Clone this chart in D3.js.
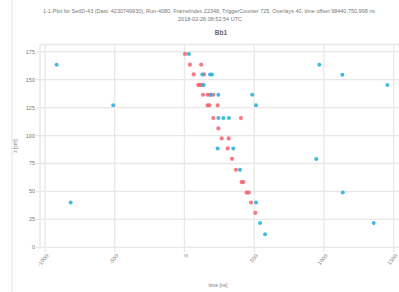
<!DOCTYPE html>
<html><head><meta charset="utf-8">
<script src="https://cdn.jsdelivr.net/npm/d3@7"></script>
<style>html,body{margin:0;padding:0;background:#fff;}svg{display:block;font-family:"Liberation Sans",Arial,sans-serif;}</style>
</head><body>
<svg id="c" width="399" height="292"></svg>
<script>
const titleLines = ["1-1-Plot for SetID-43 (Dast: 4230749930), Run-4080, FrameIndex 22348, TriggerCounter 725, Overlays 40, time offset 98440,750,998 ns", "2018-02-26 08:52:54 UTC"];
const subTitle = "Bb1";
const xLabel = "time [ns]";
const yLabel = "z [cm]";
const xTicks = [-1000, -500, 0, 500, 1000, 1500];
const yTicks = [0, 25, 50, 75, 100, 125, 150, 175];
// red series: [time ns, z cm]
const redT = [4, 39, 120, 66, 140, 99, 112, 124, 133, 166, 183, 207, 166, 178, 238, 207, 405, 243, 267, 317, 310, 341, 369, 410, 422, 446, 461, 477, 508];
const redZ = [173, 163.4, 163.4, 154.7, 154.7, 145.3, 145.3, 145.3, 136.5, 136.5, 136.5, 136.5, 127, 127, 127, 115.6, 115.6, 106.4, 97.4, 97.4, 88.5, 79.2, 69.4, 58.4, 58.4, 49, 49, 40.1, 30.9];
// blue series
const blueT = [-917, -511, 32, 128, 183, 197, 138, 190, 243, 486, 513, 243, 279, 319, 238, 350, 398, 513, 542, 578, -816, 967, 1132, 1455, 945, 1135, 1357];
const blueZ = [163.4, 127, 173, 154.7, 154.7, 154.7, 145.3, 136.5, 136.5, 136.5, 127, 115.6, 115.6, 115.6, 88.5, 88.5, 69.4, 40.1, 21.7, 11.8, 40, 163.4, 154.4, 145.2, 79, 49, 21.7];

const svg = d3.select("#c");
const x = d3.scaleLinear().domain([-1036, 1524]).range([40, 397]);
const y = d3.scaleLinear().domain([-1.5, 181]).range([249, 45]);
const grid = "#e8e8e8", txt = "#777";

// faint page edge line
svg.append("line").attr("x1",12).attr("x2",12).attr("y1",0).attr("y2",292).attr("stroke","#e6e0ee").attr("stroke-width",1);

// title
svg.append("text").attr("x",209).attr("y",13).attr("text-anchor","middle").attr("font-size",5).attr("fill",txt)
  .attr("textLength",332).attr("lengthAdjust","spacingAndGlyphs").text(titleLines[0]);
svg.append("text").attr("x",210).attr("y",21).attr("text-anchor","middle").attr("font-size",5).attr("fill",txt)
  .attr("textLength",64).attr("lengthAdjust","spacingAndGlyphs").text(titleLines[1]);
svg.append("text").attr("x",221).attr("y",35).attr("text-anchor","middle").attr("font-size",6.5).attr("font-weight","bold").attr("fill","#666").text(subTitle);

// frame top / left
svg.append("line").attr("x1",40).attr("x2",399).attr("y1",44.5).attr("y2",44.5).attr("stroke",grid).attr("stroke-width",1.5);
svg.append("line").attr("x1",40).attr("x2",40).attr("y1",44.5).attr("y2",249).attr("stroke",grid).attr("stroke-width",1.5);

// grid
svg.append("g").selectAll("line").data(yTicks).join("line")
  .attr("x1",36).attr("x2",399).attr("y1",d=>y(d)).attr("y2",d=>y(d)).attr("stroke",grid).attr("stroke-width",1.3);
svg.append("g").selectAll("line").data(xTicks).join("line")
  .attr("x1",d=>x(d)).attr("x2",d=>x(d)).attr("y1",44.5).attr("y2",252).attr("stroke",grid).attr("stroke-width",1.3);

// y tick labels
svg.append("g").selectAll("text").data(yTicks).join("text")
  .attr("x",35).attr("y",d=>y(d)+2).attr("text-anchor","end").attr("font-size",5.5).attr("fill",txt).text(d=>d);
// x tick labels
svg.append("g").selectAll("text").data(xTicks).join("text")
  .attr("transform",d=>`translate(${x(d)+4},${256}) rotate(-50)`).attr("text-anchor","end").attr("font-size",5.5).attr("fill",txt).text(d=>d);

// axis labels
svg.append("text").attr("x",218).attr("y",287).attr("text-anchor","middle").attr("font-size",5).attr("fill",txt).text(xLabel);
svg.append("text").attr("transform","translate(17,146) rotate(-90)").attr("text-anchor","middle").attr("font-size",5).attr("fill",txt).text(yLabel);

// points
const red = redT.map((t,i)=>[t,redZ[i]]);
const blue = blueT.map((t,i)=>[t,blueZ[i]]);
svg.append("g").selectAll("circle").data(red).join("circle")
  .attr("cx",d=>x(d[0])).attr("cy",d=>y(d[1])).attr("r",2.1).attr("fill","#f2646e").attr("fill-opacity",0.85);
svg.append("g").selectAll("circle").data(blue).join("circle")
  .attr("cx",d=>x(d[0])).attr("cy",d=>y(d[1])).attr("r",2).attr("fill","#2db3e3").attr("fill-opacity",0.9);
</script>
</body></html>
